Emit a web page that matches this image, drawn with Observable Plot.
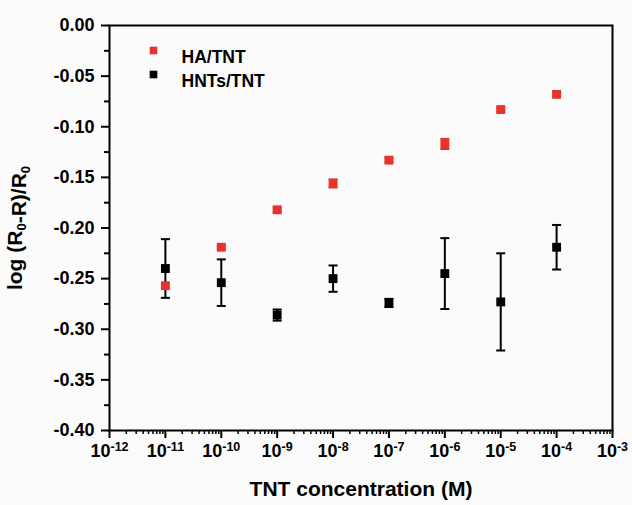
<!DOCTYPE html>
<html><head><meta charset="utf-8">
<script src="https://cdn.jsdelivr.net/npm/d3@7"></script>
<script src="https://cdn.jsdelivr.net/npm/@observablehq/plot@0.6"></script>
<style>
body{margin:0;background:#fff;}
#chart svg{font-family:"Liberation Sans",Arial,sans-serif;font-weight:bold;}
</style>
</head><body><div id="chart"></div>
<script>
const concentrations = [1e-11, 1e-10, 1e-9, 1e-8, 1e-7, 1e-6, 1e-5, 1e-4];
const haValues  = [-0.257, -0.219, -0.182, -0.156, -0.133, -0.117, -0.083, -0.068];
const haErrors  = [0.002, 0.0015, 0.002, 0.004, 0.002, 0.005, 0.002, 0.002];
const hntValues = [-0.240, -0.254, -0.286, -0.250, -0.274, -0.245, -0.273, -0.219];
const hntErrors = [0.029, 0.023, 0.0055, 0.013, 0.004, 0.035, 0.048, 0.022];
const xTicks = [1e-12, 1e-11, 1e-10, 1e-9, 1e-8, 1e-7, 1e-6, 1e-5, 1e-4, 1e-3];
const yTicks = [-0.40, -0.35, -0.30, -0.25, -0.20, -0.15, -0.10, -0.05, 0.00];
const yMinorTicks = [-0.375, -0.325, -0.275, -0.225, -0.175, -0.125, -0.075, -0.025];
const seriesNames = ["HA/TNT", "HNTs/TNT"];
const seriesColors = ["#e8322c", "#000000"];

const xMinorTicks = [];
for (let e = -12; e < -3; e++) for (let m = 2; m <= 9; m++) xMinorTicks.push(m * Math.pow(10, e));

const hnt = concentrations.map((c, i) => ({x: c, y: hntValues[i], e: hntErrors[i]}));
const ha = concentrations.map((c, i) => ({x: c, y: haValues[i], e: haErrors[i]}));

const cap = {draw(ctx) { ctx.moveTo(-4.5, 0); ctx.lineTo(4.5, 0); }};

function seriesMarks(rows, color) {
  return [
    Plot.ruleX(rows, {x: "x", y1: d => d.y - d.e, y2: d => d.y + d.e, stroke: color, strokeWidth: 2}),
    Plot.dot(rows, {x: "x", y: d => d.y - d.e, symbol: cap, stroke: color, strokeWidth: 2, fill: "none"}),
    Plot.dot(rows, {x: "x", y: d => d.y + d.e, symbol: cap, stroke: color, strokeWidth: 2, fill: "none"}),
    Plot.dot(rows, {x: "x", y: "y", symbol: "square", r: 5, fill: color, stroke: "none"})
  ];
}

const legendMarks = seriesNames.flatMap((name, i) => [
  Plot.dot([name], {frameAnchor: "top-left", dx: 44, dy: 25 + 24 * i, symbol: "square", r: 4.3, fill: seriesColors[i]}),
  Plot.text([name], {frameAnchor: "top-left", dx: 72, dy: 25 + 24 * i, text: d => d, textAnchor: "start", fontSize: 17.5, fontWeight: "bold", fill: "black"})
]);

const blank = () => "";

const plot = Plot.plot({
  width: 632,
  height: 505,
  marginLeft: 109,
  marginRight: 20,
  marginTop: 25,
  marginBottom: 75,
  style: {background: "#fbfbfb", fontFamily: "Liberation Sans, Arial, sans-serif", fontWeight: "bold"},
  x: {type: "log", domain: [1e-12, 1e-3]},
  y: {domain: [-0.40, 0.00]},
  marks: [
    Plot.axisX({ticks: xMinorTicks, tickSize: 4, tickFormat: blank, label: null, strokeWidth: 1.5}),
    Plot.axisX({ticks: xTicks, tickSize: 8, tickPadding: 6, strokeWidth: 2, fontSize: 18,
      tickFormat: d => "10^" + Math.round(Math.log10(d)),
      label: "TNT concentration (M)", labelAnchor: "center", labelArrow: "none", labelOffset: 65}),
    Plot.axisY({ticks: yMinorTicks, tickSize: 5, tickFormat: blank, label: null, strokeWidth: 2}),
    Plot.axisY({ticks: yTicks, tickSize: 8, tickPadding: 7, strokeWidth: 2, fontSize: 18,
      tickFormat: d => d.toFixed(2),
      label: "log (R_0-R)/R_0", labelAnchor: "center", labelArrow: "none", labelOffset: 102}),
    Plot.frame({stroke: "black", strokeWidth: 2}),
    ...seriesMarks(hnt, seriesColors[1]),
    ...seriesMarks(ha, seriesColors[0]),
    ...legendMarks
  ]
});

document.getElementById("chart").appendChild(plot);
const svg = d3.select(plot);

// superscripts on x tick labels
svg.selectAll('g[aria-label="x-axis tick label"] text').each(function() {
  const t = d3.select(this);
  const s = t.text();
  if (!s.includes("^")) return;
  const [base, exp] = s.split("^");
  t.text(null);
  t.append("tspan").text(base);
  t.append("tspan").attr("dy", "-0.5em").attr("font-size", "12.5px").text(exp);
});

// axis titles
svg.selectAll('g[aria-label="y-axis label"] text, g[aria-label="x-axis label"] text').attr("font-size", 21);
svg.selectAll('g[aria-label="y-axis label"] text').each(function() {
  const t = d3.select(this);
  const s = t.text();
  const parts = s.split(/_0/);
  t.text(null);
  parts.forEach((p, i) => {
    t.append("tspan").text(p);
    if (i < parts.length - 1) {
      t.append("tspan").attr("dy", "0.3em").attr("font-size", "13px").text("0");
      t.append("tspan").attr("dy", "-0.3em").text("");
    }
  });
});
</script>
</body></html>
